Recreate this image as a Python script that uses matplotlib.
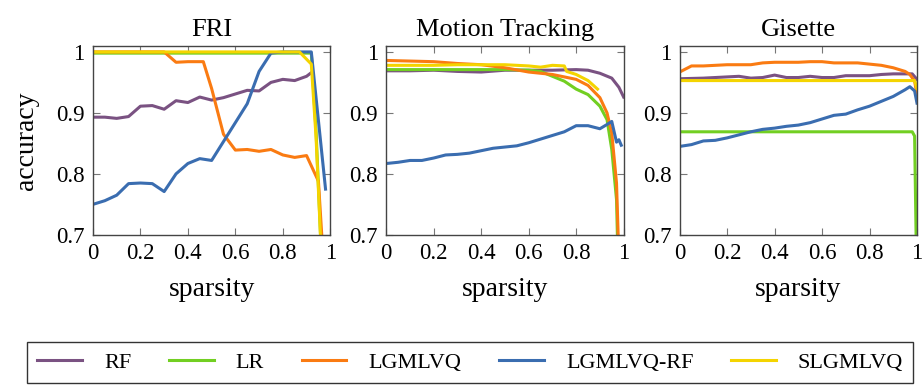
import numpy as np
import matplotlib
matplotlib.use("Agg")
import matplotlib.pyplot as plt

plt.rcParams.update({"font.family": ["Liberation Serif", "DejaVu Serif"],
                     "font.size": 16})

METHODS = ["RF", "LR", "LGMLVQ", "LGMLVQ-RF", "SLGMLVQ"]
COLORS = {"RF": "#7a5282", "LR": "#72cf22", "LGMLVQ": "#fa7b12",
          "LGMLVQ-RF": "#3a6db0", "SLGMLVQ": "#f4d400"}
TITLES = ["FRI", "Motion Tracking", "Gisette"]

# ---- FRI ----
fri_rf_x = [0, .05, .1, .15, .2, .25, .3, .35, .4, .45, .5, .55, .6, .65, .7,
            .75, .8, .85, .9, .92]
fri_rf_y = [.893, .893, .891, .894, .911, .912, .906, .920, .917, .926, .921,
            .925, .931, .937, .936, .950, .955, .953, .960, .966]
fri_lr_x = [0, .5, .92, .94, .97]
fri_lr_y = [.998, .998, .998, .87, .60]
fri_lg_x = [0, .1, .2, .3, .35, .4, .465, .5, .55, .6, .65, .7, .75, .8, .85,
            .9, .95, .98]
fri_lg_y = [1.0, 1.0, 1.0, 1.0, .983, .984, .984, .94, .865, .839, .840, .837,
            .840, .831, .827, .830, .788, .60]
fri_lgrf_x = [0, .05, .1, .15, .2, .25, .3, .35, .4, .45, .5, .55, .6, .65,
              .7, .75, .8, .85, .9, .92, .98]
fri_lgrf_y = [.750, .756, .765, .784, .785, .784, .771, .800, .817, .825, .822,
              .853, .884, .915, .968, .998, 1.0, 1.0, 1.0, 1.0, .775]
fri_sl_x = [0, .5, .87, .9, .92, .94, .97]
fri_sl_y = [1.0, 1.0, 1.0, .988, .98, .86, .60]

# ---- Motion Tracking ----
mt_rf_x = [0, .1, .2, .3, .4, .5, .6, .7, .8, .85, .9, .95, .98, 1.0]
mt_rf_y = [.969, .969, .970, .968, .967, .970, .970, .970, .971, .970, .965,
           .957, .942, .926]
mt_lr_x = [0, .1, .2, .3, .4, .5, .6, .65, .7, .75, .8, .85, .9, .93, .95,
           .97, .98]
mt_lr_y = [.971, .971, .971, .971, .971, .971, .970, .968, .960, .952, .939,
           .930, .911, .889, .840, .758, .60]
mt_lg_x = [0, .1, .2, .3, .4, .5, .6, .7, .8, .85, .9, .93, .95, .97, .985]
mt_lg_y = [.986, .985, .984, .981, .979, .974, .967, .963, .955, .945, .925,
           .900, .867, .785, .60]
mt_lgrf_x = [0, .05, .1, .15, .2, .25, .3, .35, .4, .45, .5, .55, .6, .65,
             .7, .75, .8, .85, .9, .93, .95, .97, .98, .99]
mt_lgrf_y = [.817, .819, .822, .822, .826, .831, .832, .834, .838, .842, .844,
             .846, .851, .857, .863, .869, .879, .879, .874, .881, .886, .852,
             .856, .847]
mt_sl_x = [0, .1, .2, .3, .4, .5, .6, .65, .7, .75, .76, .8, .85, .89]
mt_sl_y = [.978, .978, .978, .979, .979, .979, .977, .975, .978, .977, .968,
           .963, .953, .939]

# ---- Gisette ----
gi_rf_x = [0, .1, .2, .25, .3, .35, .4, .45, .5, .55, .6, .65, .7, .8, .85,
           .9, .95, .98, 1.0]
gi_rf_y = [.956, .957, .959, .960, .957, .958, .962, .958, .958, .960, .958,
           .958, .961, .961, .963, .964, .964, .964, .955]
gi_lr_x = [0, .5, .98, .99, 1.0]
gi_lr_y = [.869, .869, .869, .862, .60]
gi_lg_x = [0, .05, .1, .2, .3, .35, .4, .5, .55, .6, .65, .7, .75, .8, .85,
           .9, .95, .97, .99, 1.0]
gi_lg_y = [.967, .977, .977, .979, .979, .982, .983, .983, .984, .984, .982,
           .982, .982, .980, .978, .974, .968, .963, .952, .930]
gi_lgrf_x = [0, .05, .1, .15, .2, .25, .3, .35, .4, .45, .5, .55, .6, .65, .7,
             .75, .8, .85, .9, .95, .97, .99, 1.0]
gi_lgrf_y = [.845, .848, .854, .855, .859, .864, .869, .873, .875, .878, .880,
             .884, .890, .896, .898, .905, .911, .919, .927, .938, .943, .936,
             .916]
gi_sl_x = [0, .5, .99, 1.0]
gi_sl_y = [.953, .953, .953, .940]

DATA = [
    {"RF": (fri_rf_x, fri_rf_y), "LR": (fri_lr_x, fri_lr_y),
     "LGMLVQ": (fri_lg_x, fri_lg_y), "LGMLVQ-RF": (fri_lgrf_x, fri_lgrf_y),
     "SLGMLVQ": (fri_sl_x, fri_sl_y)},
    {"RF": (mt_rf_x, mt_rf_y), "LR": (mt_lr_x, mt_lr_y),
     "LGMLVQ": (mt_lg_x, mt_lg_y), "LGMLVQ-RF": (mt_lgrf_x, mt_lgrf_y),
     "SLGMLVQ": (mt_sl_x, mt_sl_y)},
    {"RF": (gi_rf_x, gi_rf_y), "LR": (gi_lr_x, gi_lr_y),
     "LGMLVQ": (gi_lg_x, gi_lg_y), "LGMLVQ-RF": (gi_lgrf_x, gi_lgrf_y),
     "SLGMLVQ": (gi_sl_x, gi_sl_y)},
]

xticks = [0, 0.2, 0.4, 0.6, 0.8, 1]
xticklabels = ["0", "0.2", "0.4", "0.6", "0.8", "1"]
yticks = [0.7, 0.8, 0.9, 1.0]
yticklabels = ["0.7", "0.8", "0.9", "1"]

fig, axes = plt.subplots(1, 3, figsize=(9.24, 3.85), dpi=100)
fig.subplots_adjust(left=0.1006, right=0.9924, bottom=0.39, top=0.881,
                    wspace=0.236)
for ax, title, d in zip(axes, TITLES, DATA):
    for m in METHODS:
        x, y = d[m]
        ax.plot(x, y, color=COLORS[m], lw=2.2, label=m, solid_joinstyle="round")
    ax.set_xlim(0, 1)
    ax.set_ylim(0.7, 1.01)
    ax.set_xticks(xticks)
    ax.set_xticklabels(xticklabels)
    ax.set_yticks(yticks)
    ax.set_yticklabels(yticklabels)
    ax.tick_params(direction="in", top=True, right=True, length=5,
                   color="#777777", pad=6, labelsize=16.5)
    for s in ax.spines.values():
        s.set_color("#444444")
        s.set_linewidth(1.0)
    ax.set_title(title, pad=7, fontsize=19)
    ax.set_xlabel("sparsity", labelpad=9, fontsize=20)
axes[0].set_ylabel("accuracy", labelpad=12, fontsize=20)

handles, labels = axes[0].get_legend_handles_labels()
leg = fig.legend(handles, labels, loc="center", ncol=5,
                 bbox_to_anchor=(0.024, 0.005, 0.97, 0.106),
                 frameon=True, fancybox=False, edgecolor="black",
                 handlelength=2.0, columnspacing=1.7, handletextpad=1.0,
                 borderaxespad=0, borderpad=0.45)
leg.get_frame().set_linewidth(1.0)
fig.savefig("out.png", dpi=100)
